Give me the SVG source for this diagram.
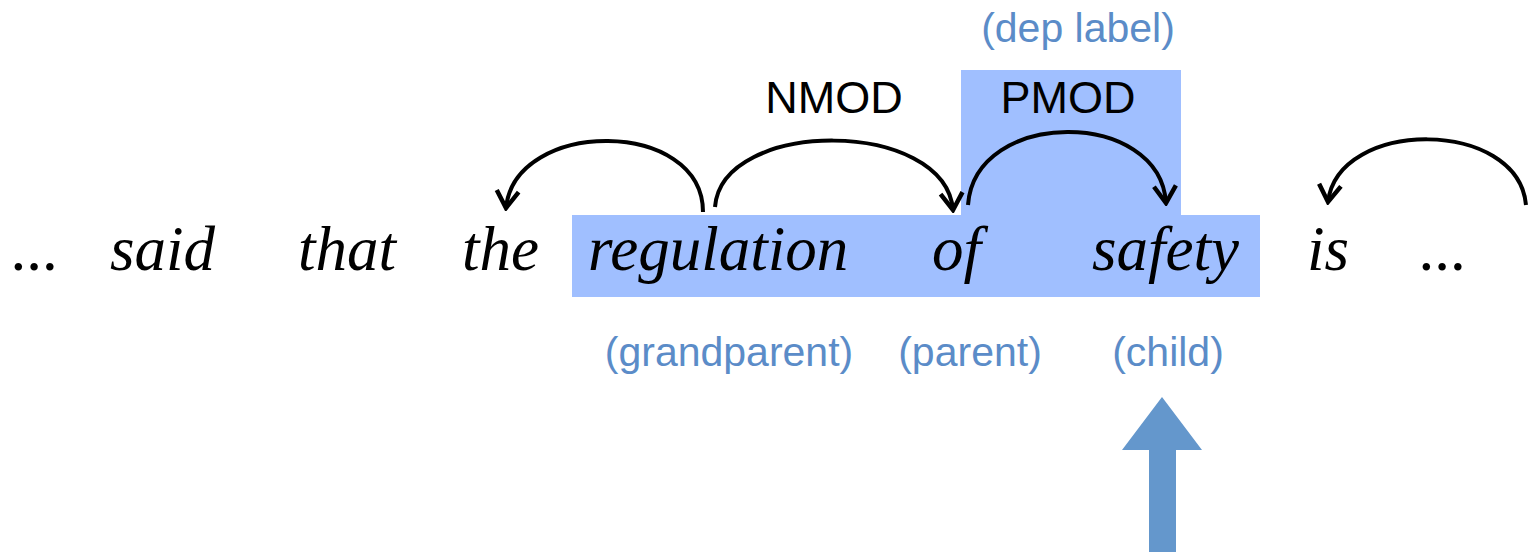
<svg xmlns="http://www.w3.org/2000/svg" width="1530" height="552" viewBox="0 0 1530 552">
<defs>
<style>
.w{font-family:"Liberation Serif","Times New Roman",serif;font-style:italic;font-size:63px;fill:#000}
.lab{font-family:"Liberation Sans",Arial,sans-serif;font-size:45px;fill:#000;text-anchor:middle}
.note{font-family:"Liberation Sans",Arial,sans-serif;font-size:41px;fill:#5b8cc8;text-anchor:middle}
.arc{fill:none;stroke:#000;stroke-width:4;marker-end:url(#ah)}
</style>
<marker id="ah" viewBox="-20 -14 23 28" markerWidth="23" markerHeight="28" refX="0" refY="0" orient="auto" markerUnits="userSpaceOnUse">
<polyline points="-17,-11 0,0 -17,11" fill="none" stroke="#000" stroke-width="4.5"/>
</marker>
</defs>
<g id="highlight">
<path d="M572,215 H961 V70 H1181 V215 H1260 V297 H572 Z" fill="#a0bfff"/>
</g>
<g id="words">
<text class="w" x="12" y="270">...</text>
<text class="w" x="110" y="270">said</text>
<text class="w" x="298" y="270">that</text>
<text class="w" x="462" y="270">the</text>
<text class="w" x="588" y="270">regulation</text>
<text class="w" x="932" y="270">of</text>
<text class="w" x="1092" y="270">safety</text>
<text class="w" x="1307" y="270">is</text>
<text class="w" x="1420" y="270">...</text>
</g>
<g id="labels">
<text class="lab" x="834" y="113">NMOD</text>
<text class="lab" x="1068" y="113">PMOD</text>
<text class="note" x="1078" y="42">(dep label)</text>
<text class="note" x="729" y="366">(grandparent)</text>
<text class="note" x="970" y="366">(parent)</text>
<text class="note" x="1168" y="366">(child)</text>
</g>
<g id="connectors">
<path class="arc" d="M703,212 C703,118 515,118 506,208"/>
<path class="arc" d="M715,207 C722,118 945,118 953,210"/>
<path class="arc" d="M968,205 C975,108 1160,108 1166,203"/>
<path class="arc" d="M1526,205 C1518,118 1338,118 1328,202"/>
</g>
<g id="pointer">
<path d="M1162,397 L1202,450 H1176 V552 H1149 V450 H1122 Z" fill="#6497cc"/>
</g>
</svg>
